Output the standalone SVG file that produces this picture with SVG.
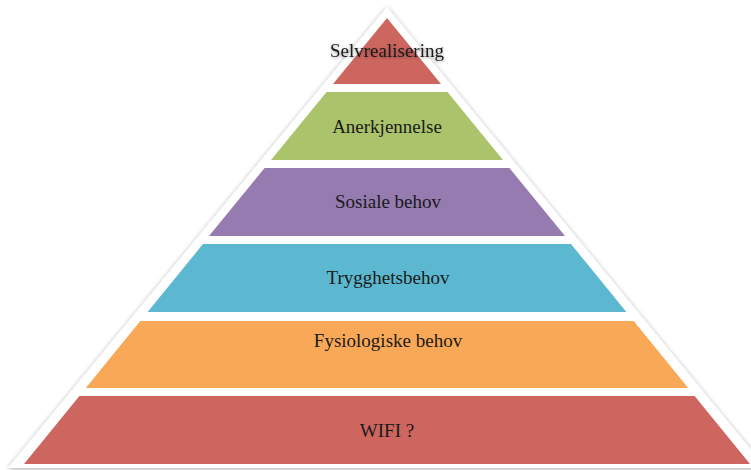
<svg xmlns="http://www.w3.org/2000/svg" width="751" height="470" viewBox="0 0 751 470">
<defs>
<filter id="sh" x="-10%" y="-10%" width="120%" height="120%">
<feGaussianBlur in="SourceAlpha" stdDeviation="2.5"/>
<feOffset dx="0" dy="1" result="b"/>
<feComponentTransfer><feFuncA type="linear" slope="0.35"/></feComponentTransfer>
<feMerge><feMergeNode/><feMergeNode in="SourceGraphic"/></feMerge>
</filter>
<filter id="tsh" x="-20%" y="-50%" width="140%" height="200%">
<feGaussianBlur in="SourceAlpha" stdDeviation="1.5"/>
<feOffset dx="0" dy="1"/>
<feComponentTransfer><feFuncA type="linear" slope="0.4"/></feComponentTransfer>
<feMerge><feMergeNode/><feMergeNode in="SourceGraphic"/></feMerge>
</filter>
</defs>
<style>
text{font-family:"Liberation Serif","Times New Roman",serif;font-size:19px;fill:#1a1a1a;text-anchor:middle}
.l1{fill:#CD665F}
.l2{fill:#ABC46B}
.l3{fill:#957BB0}
.l4{fill:#5BB8D0}
.l5{fill:#F9A857}
.l6{fill:#CD665F}
</style>
<rect width="751" height="470" fill="#ffffff"/>
<g id="backdrop">
<polygon points="387,7 766,468 8,468" fill="#ffffff" filter="url(#sh)"/>
</g>
<g id="connectors"></g>
<g id="layer6">
<polygon class="l6" points="79.4,396 694.6,396 750,464 24,464"/>
<text x="387" y="437">WIFI ?</text>
</g>
<g id="layer5">
<polygon class="l5" points="140.3,321 633.7,321 688.2,388 85.8,388"/>
<text x="388" y="347">Fysiologiske behov</text>
</g>
<g id="layer4">
<polygon class="l4" points="203,244 571,244 626.4,312 147.6,312"/>
<text x="388" y="284">Trygghetsbehov</text>
</g>
<g id="layer3">
<polygon class="l3" points="264.6,168 509.4,168 565,236 209,236"/>
<text x="388" y="208">Sosiale behov</text>
</g>
<g id="layer2">
<polygon class="l2" points="326.5,92 447.5,92 503,160 271,160"/>
<text x="387" y="133">Anerkjennelse</text>
</g>
<g id="layer1">
<polygon class="l1" points="387,18 441,84 333,84"/>
<text x="387" y="57" filter="url(#tsh)">Selvrealisering</text>
</g>
</svg>
